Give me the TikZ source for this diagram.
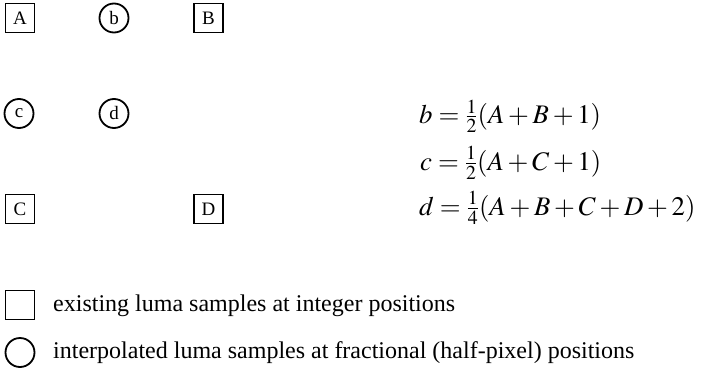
\documentclass[tikz,border=0pt]{standalone}
\usepackage{amsmath}
\usepackage{mathptmx}
\usepackage{fontspec}
\setmainfont{Liberation Serif}
\begin{document}
\begin{tikzpicture}[x=1pt,y=1pt,
  sq/.style={draw, line width=1.8pt, minimum width=29pt, minimum height=29pt, inner sep=0pt, font=\fontsize{19}{22}\selectfont},
  rnd/.style={draw, circle, line width=1.8pt, minimum size=29pt, inner sep=0pt, font=\fontsize{19}{22}\selectfont},
  eqn/.style={anchor=base west, inner sep=0pt, font=\fontsize{26.8}{32}\selectfont},
  legtxt/.style={anchor=base west, inner sep=0pt, font=\fontsize{24}{28}\selectfont}]
\useasboundingbox (0,0) rectangle (703,-369);
\node[sq] (A) at (20,-18) {A};
\node[rnd] (b) at (114,-18) {b};
\node[sq] (B) at (208.5,-18) {B};
\node[rnd] (c) at (19,-113.5) {c};
\node[rnd] (d) at (114,-113.5) {d};
\node[sq] (C) at (20,-209) {C};
\node[sq] (D) at (208.5,-209) {D};
\node[eqn] (eqb) at (419,-123.6) {$b = \tfrac{1}{2}(A+B+1)$};
\node[eqn] (eqc) at (420,-170) {$c = \tfrac{1}{2}(A+C+1)$};
\node[eqn] (eqd) at (419,-215) {$d = \tfrac{1}{4}(A+B+C+D+2)$};
\node[sq] (lsq) at (20,-305) {};
\node[legtxt] (lsqt) at (53,-311) {existing luma samples at integer positions};
\node[rnd] (lci) at (20,-352.5) {};
\node[legtxt] (lcit) at (53,-358) {interpolated luma samples at fractional (half-pixel) positions};
\end{tikzpicture}
\end{document}
